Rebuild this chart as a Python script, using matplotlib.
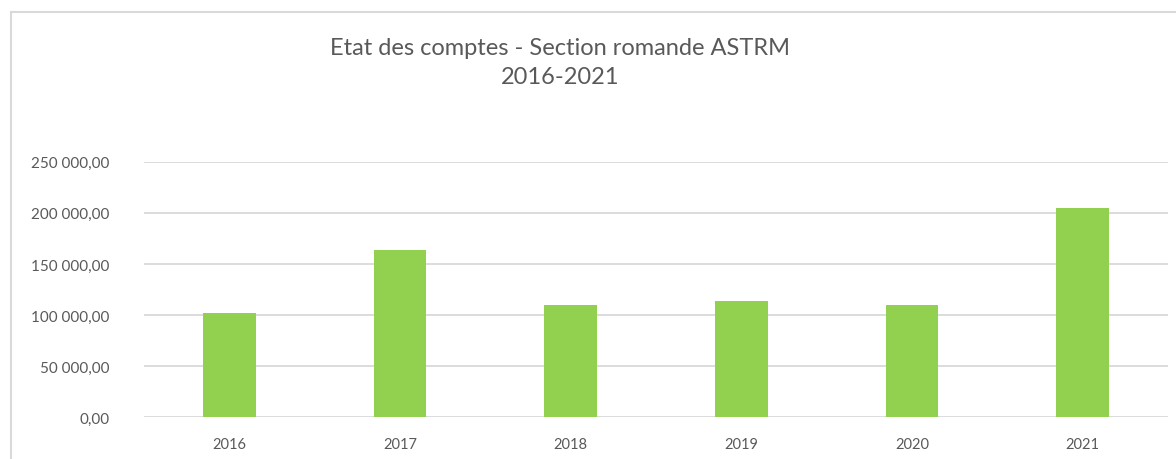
import matplotlib.pyplot as plt
from matplotlib.ticker import FuncFormatter
from matplotlib.lines import Line2D

# data
years = ['2016', '2017', '2018', '2019', '2020', '2021']
balance = [101700, 163900, 110100, 114000, 110000, 205000]

green = '#92D050'
grid_col = '#D9D9D9'
txt_col = '#595959'
plt.rcParams['font.family'] = ['Lato', 'DejaVu Sans']


def chf(v, pos):
    s = '{:,.2f}'.format(v)
    return s.replace(',', ' ').replace('.', ',')


fig = plt.figure(figsize=(11.76, 4.6), dpi=100)
ax = fig.add_axes([144/1176, 1 - 418.3/460, 1024/1176, 255.6/460])

ax.bar(years, balance, width=0.31, color=green, zorder=3)

ax.set_ylim(0, 250000)
ax.set_xlim(-0.5, len(years) - 0.5)
ax.set_yticks(range(0, 250001, 50000))
ax.yaxis.set_major_formatter(FuncFormatter(chf))
ax.grid(axis='y', color=grid_col, linewidth=1.3, zorder=0)
for s in ax.spines.values():
    s.set_visible(False)
ax.tick_params(axis='y', length=0, pad=25, labelsize=11, labelcolor=txt_col)
ax.tick_params(axis='x', length=0, pad=14, labelsize=10.5, labelcolor=txt_col)

fig.text(560/1176, 1 - 63/460, 'Etat des comptes - Section romande ASTRM\n2016-2021',
         ha='center', va='center', fontsize=17, color=txt_col, linespacing=1.45)

# chart frame (only top and left visible in the crop)
fig.add_artist(Line2D([11/1176, 11/1176], [0, 1 - 13/460], transform=fig.transFigure,
                      color=grid_col, linewidth=1.5))
fig.add_artist(Line2D([11/1176, 1], [1 - 13/460, 1 - 13/460], transform=fig.transFigure,
                      color=grid_col, linewidth=1.5))

fig.savefig('out.png', dpi=100)
